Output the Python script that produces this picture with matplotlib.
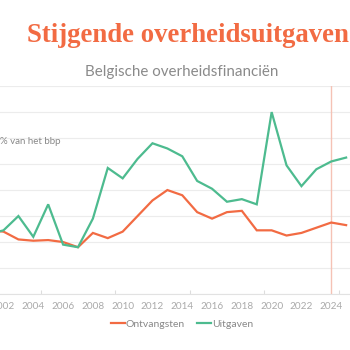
import numpy as np
import matplotlib
matplotlib.use("Agg")
import matplotlib.pyplot as plt
from matplotlib.ticker import MultipleLocator, FixedLocator

# Belgische overheidsfinancien, % van het bbp
jaren = list(range(2001, 2026))
uitgaven = [50.6, 50.9, 52.0, 50.4, 52.9, 49.8, 49.6, 51.8, 55.7, 54.9, 56.4, 57.6, 57.2,
            56.6, 54.7, 54.1, 53.1, 53.3, 52.9, 60.0, 55.9, 54.3, 55.6, 56.2, 56.5]
ontvangsten = [50.9, 50.8, 50.2, 50.1, 50.15, 50.0, 49.6, 50.7, 50.3, 50.8, 52.0, 53.2, 54.0,
               53.6, 52.3, 51.8, 52.3, 52.4, 50.9, 50.9, 50.5, 50.7, 51.1, 51.5, 51.3]
tick_jaren = list(range(2002, 2026, 2))
prognose_jaar = 2024

oranje = "#f26b43"
groen = "#4dbb8f"

plt.rcParams['font.family'] = ['Lato', 'DejaVu Sans']

fig = plt.figure(figsize=(3.5, 3.5), dpi=100)
ax = fig.add_axes([0, 0.16, 1, 0.594])

ax.plot(jaren, ontvangsten, color=oranje, lw=1.6, label="Ontvangsten", solid_joinstyle='miter')
ax.plot(jaren, uitgaven, color=groen, lw=1.6, label="Uitgaven", solid_joinstyle='miter')
ax.axvline(prognose_jaar, color="#f5c2b5", lw=1, zorder=1)

ax.set_xlim(2001.765, 2025.26)
ax.set_ylim(46, 62)
ax.yaxis.set_major_locator(MultipleLocator(2))
ax.grid(axis='y', color="#ececec", lw=0.8)
ax.set_axisbelow(True)
ax.set_yticklabels([])
ax.tick_params(axis='y', length=0)

ax.set_xticks(tick_jaren)
ax.tick_params(axis='x', which='major', length=0, labelsize=7.2, labelcolor="#aaaaaa", pad=6)
ax.xaxis.set_minor_locator(FixedLocator([2004.5, 2009.5, 2014.5, 2019.5, 2024.5]))
ax.tick_params(axis='x', which='minor', length=3, direction='in', color="#dddddd", width=0.8)

for s in ['left', 'right', 'top']:
    ax.spines[s].set_visible(False)
ax.spines['bottom'].set_color("#e2e2e2")
ax.spines['bottom'].set_linewidth(0.8)

ax.text(0.0, 0.735, "% van het bbp", transform=ax.transAxes, fontsize=7, color="#888888",
        ha='left', va='center')

fig.text(187.5 / 350, 1 - 36 / 350, "Stijgende overheidsuitgaven", fontsize=19.3, fontweight='bold',
         family='Liberation Serif', color=oranje, ha='center', va='center')
fig.text(181.5 / 350, 1 - 72 / 350, "Belgische overheidsfinanciën", fontsize=10.9, color="#8a8a8a",
         ha='center', va='center')

leg = fig.legend(loc='center', bbox_to_anchor=(182 / 350, 1 - 324 / 350), ncol=2, frameon=False,
                 fontsize=7.5, handlelength=1.3, handletextpad=0.1, columnspacing=1.2)
for t in leg.get_texts():
    t.set_color("#888888")

fig.savefig("out.png", dpi=100, facecolor='white')
